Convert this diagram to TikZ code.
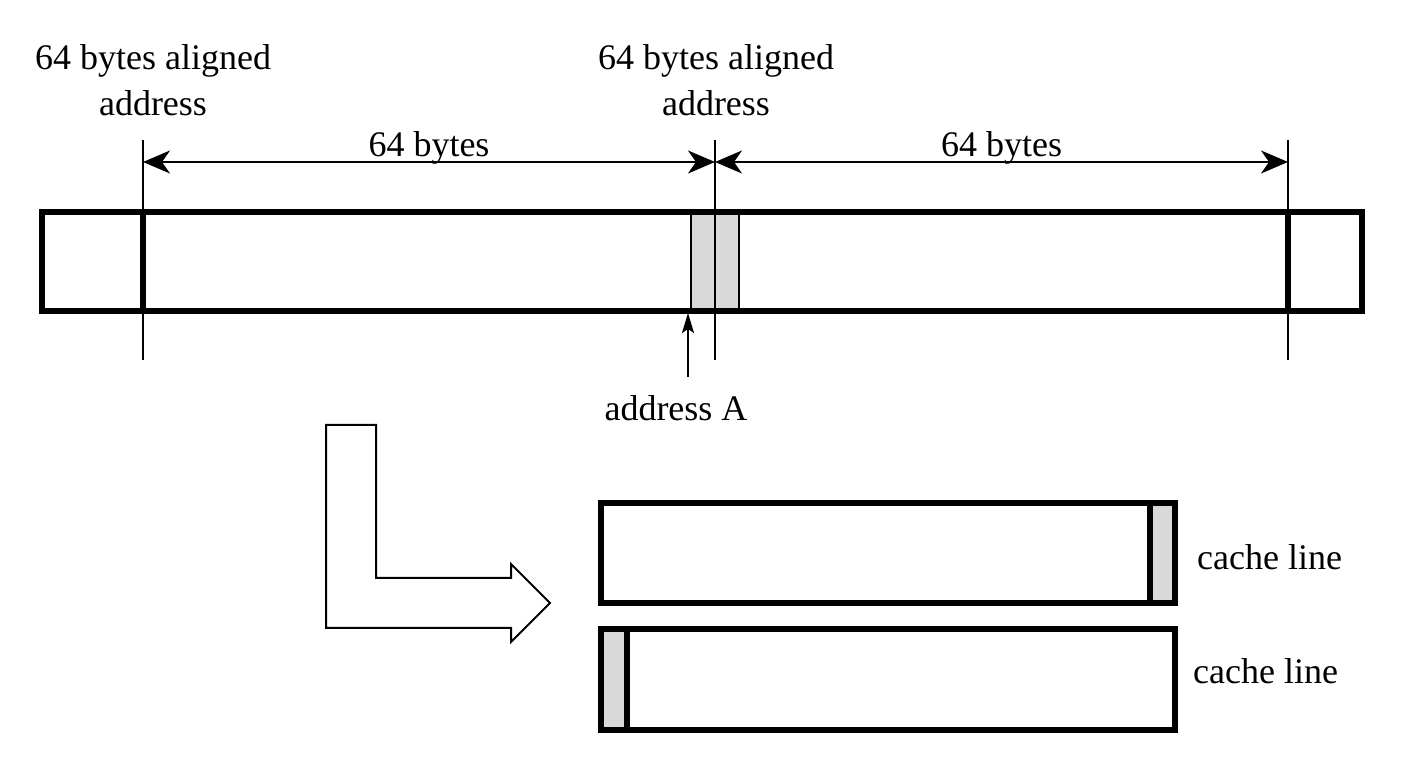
\documentclass[tikz,border=0pt]{standalone}
\usepackage{fontspec}
\setmainfont{Liberation Serif}
\usetikzlibrary{arrows.meta,positioning}

\begin{document}
\begin{tikzpicture}[x=0.5pt,y=-0.5pt,
                    every node/.style={font=\fontsize{18}{23}\selectfont},
                    thick line/.style={line width=2.6pt},
                    thin line/.style={line width=1pt},
                    dim/.style={thin line,{Stealth[length=13.5pt,width=11.5pt,inset=4pt]}-{Stealth[length=13.5pt,width=11.5pt,inset=4pt]}},
                    slot/.style={rectangle,draw=black,fill=black!15,inner sep=0pt}]
  \useasboundingbox (0,0) rectangle (1425,769);

  % memory bar
  \coordinate (barNW) at (42,212);
  \coordinate (barSE) at (1362,311);
  \node[slot,line width=1pt,minimum width=24pt,minimum height=49.5pt] (accessA) at (715,261.5) {};
  \draw[thick line] (barNW) rectangle (barSE);
  \draw[thick line] (143,212) -- (143,311);
  \draw[thick line] (1288,212) -- (1288,311);

  % boundary marks
  \coordinate (leftTop) at (143,140);   \coordinate (leftBot) at (143,360);
  \coordinate (midTop)  at (715,140);   \coordinate (midBot)  at (715,360);
  \coordinate (rightTop) at (1288,140); \coordinate (rightBot) at (1288,360);
  \draw[thin line] (leftTop) -- (leftBot);
  \draw[thin line] (midTop) -- (midBot);
  \draw[thin line] (rightTop) -- (rightBot);

  \coordinate (leftDim) at (143,162);
  \coordinate (midDim) at (715,162);
  \coordinate (rightDim) at (1288,162);
  \draw[dim] (leftDim) -- node[above=-5pt] (sizeL) {64 bytes} (midDim);
  \draw[dim] (midDim) -- node[above=-5pt] (sizeR) {64 bytes} (rightDim);

  \node[align=center] (alignL) at (153,80) {64 bytes aligned\\address};
  \node[align=center] (alignR) at (716,80) {64 bytes aligned\\address};

  % address A
  \node (addrA) at (676,408) {address A};
  \coordinate (addrTip) at (688,313);
  \draw[thin line,-{Stealth[length=10pt,width=6pt,inset=2pt]}] (688,377) -- (addrTip);

  % bent arrow
  \draw[line width=1pt,fill=white] (326,425) -- (376,425) -- (376,578) -- (511,578)
    -- (511,564) -- (550,603) -- (511,642) -- (511,628) -- (326,628) -- cycle;

  % cache lines
  \node[slot,line width=1pt,minimum width=13pt,minimum height=50.5pt] (tailA) at (1163,553) {};
  \draw[thick line] (601,503) rectangle (1175,603);
  \draw[thick line] (1150,503) -- (1150,603);
  \node[slot,line width=1pt,minimum width=13pt,minimum height=51pt] (headA) at (614,679) {};
  \draw[thick line] (601,629) rectangle (1175,730);
  \draw[thick line] (627,629) -- (627,730);

  \node[anchor=west] (lineOne) at (1190,557) {cache line};
  \node[anchor=west] (lineTwo) at (1186,671) {cache line};
\end{tikzpicture}
\end{document}
